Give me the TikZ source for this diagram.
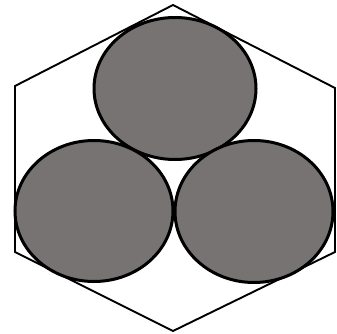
\documentclass[tikz,border=0pt]{standalone}
\definecolor{ballgray}{RGB}{118,115,114}
\tikzset{
  hexline/.style={draw=black, line width=1.9pt, line join=miter},
  ball/.style={draw=black, fill=ballgray, line width=3pt}
}
\begin{document}
\begin{tikzpicture}[x=1pt,y=-1pt]
\useasboundingbox (0,0) rectangle (337,334);
\draw[hexline] (173,5) -- (335,88) -- (335,252) -- (173,331) -- (15,252) -- (15,86) -- cycle;
\draw[ball] (175,88.5) ellipse [x radius=81, y radius=71];
\draw[ball] (94,211) ellipse [x radius=79, y radius=70.5];
\draw[ball] (254,211.5) ellipse [x radius=79, y radius=71];
\end{tikzpicture}
\end{document}
